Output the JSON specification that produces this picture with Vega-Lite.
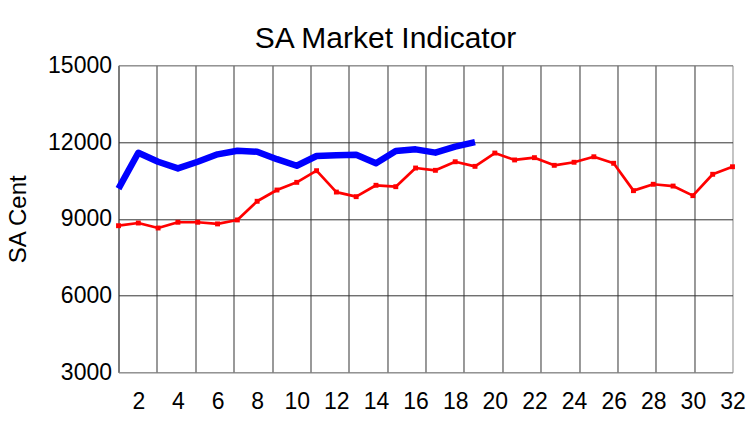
{
  "$schema": "https://vega.github.io/schema/vega-lite/v6.json",
  "width": 614,
  "height": 307,
  "autosize": {"type": "none"},
  "padding": {"left": 118.5, "top": 65.3, "right": 13, "bottom": 55},
  "background": "white",
  "config": {
    "font": "Liberation Sans",
    "view": {"stroke": "#8a8a8a", "strokeWidth": 1}
  },
  "title": {
    "text": "SA Market Indicator",
    "fontSize": 30,
    "fontWeight": "normal",
    "font": "Liberation Sans",
    "color": "black",
    "offset": 0,
    "dx": -40
  },
  "datasets": {
    "blue": [
      {"x": 1, "v": 10180}, {"x": 2, "v": 11580}, {"x": 3, "v": 11230}, {"x": 4, "v": 10970},
      {"x": 5, "v": 11230}, {"x": 6, "v": 11520}, {"x": 7, "v": 11660}, {"x": 8, "v": 11620},
      {"x": 9, "v": 11330}, {"x": 10, "v": 11075}, {"x": 11, "v": 11455}, {"x": 12, "v": 11480},
      {"x": 13, "v": 11505}, {"x": 14, "v": 11170}, {"x": 15, "v": 11650}, {"x": 16, "v": 11715},
      {"x": 17, "v": 11585}, {"x": 18, "v": 11820}, {"x": 19, "v": 12000}
    ],
    "red": [
      {"x": 1, "v": 8730}, {"x": 2, "v": 8835}, {"x": 3, "v": 8640}, {"x": 4, "v": 8865},
      {"x": 5, "v": 8865}, {"x": 6, "v": 8800}, {"x": 7, "v": 8955}, {"x": 8, "v": 9685},
      {"x": 9, "v": 10125}, {"x": 10, "v": 10425}, {"x": 11, "v": 10880}, {"x": 12, "v": 10045},
      {"x": 13, "v": 9865}, {"x": 14, "v": 10310}, {"x": 15, "v": 10255}, {"x": 16, "v": 10985},
      {"x": 17, "v": 10895}, {"x": 18, "v": 11230}, {"x": 19, "v": 11050}, {"x": 20, "v": 11570},
      {"x": 21, "v": 11300}, {"x": 22, "v": 11390}, {"x": 23, "v": 11090}, {"x": 24, "v": 11210},
      {"x": 25, "v": 11425}, {"x": 26, "v": 11170}, {"x": 27, "v": 10100}, {"x": 28, "v": 10350},
      {"x": 29, "v": 10280}, {"x": 30, "v": 9905}, {"x": 31, "v": 10740}, {"x": 32, "v": 11035}
    ]
  },
  "resolve": {"axis": {"x": "independent"}},
  "layer": [
    {
      "data": {"name": "red"},
      "mark": {"type": "line", "color": "#ff0000", "strokeWidth": 2.7, "strokeJoin": "round", "clip": false},
      "encoding": {
        "x": {
          "field": "x", "type": "quantitative",
          "scale": {"domain": [1, 32], "nice": false, "zero": false},
          "axis": {
            "orient": "bottom",
            "values": [1.0, 2.9375, 4.875, 6.8125, 8.75, 10.6875, 12.625, 14.5625, 16.5, 18.4375, 20.375, 22.3125, 24.25, 26.1875, 28.125, 30.0625],
            "grid": true, "gridColor": "#333333", "gridWidth": 1, "gridOpacity": 1,
            "labels": false, "ticks": false, "domain": false, "title": null
          }
        },
        "y": {
          "field": "v", "type": "quantitative",
          "scale": {"domain": [3000, 15000], "nice": false, "zero": false},
          "axis": {
            "values": [3000, 6000, 9000, 12000, 15000],
            "format": "d",
            "grid": true,
            "gridColor": {"condition": {"test": "datum.value == 3000 || datum.value == 15000", "value": "#8a8a8a"}, "value": "#333333"},
            "gridWidth": 1, "gridOpacity": 1,
            "ticks": false, "domain": false,
            "labelFontSize": 23, "labelColor": "black", "labelPadding": 7,
            "labelFlush": false, "labelOverlap": false,
            "title": "SA Cent", "titleFontSize": 24, "titleFontWeight": "normal",
            "titleColor": "black", "titlePadding": 17
          }
        }
      }
    },
    {
      "data": {"name": "red"},
      "mark": {"type": "point", "shape": "square", "filled": true, "color": "#ff0000", "size": 24, "opacity": 1},
      "encoding": {
        "x": {"field": "x", "type": "quantitative", "axis": null},
        "y": {"field": "v", "type": "quantitative"}
      }
    },
    {
      "data": {"name": "blue"},
      "mark": {"type": "line", "color": "#0000ff", "strokeWidth": 6.5, "strokeJoin": "round"},
      "encoding": {
        "x": {
          "field": "x", "type": "quantitative",
          "axis": {
            "orient": "bottom",
            "values": [2, 4, 6, 8, 10, 12, 14, 16, 18, 20, 22, 24, 26, 28, 30, 32],
            "grid": false, "ticks": false, "domain": false,
            "labelFontSize": 23, "labelColor": "black", "labelPadding": 18,
            "labelFlush": false, "labelOverlap": false, "title": null
          }
        },
        "y": {"field": "v", "type": "quantitative"}
      }
    }
  ]
}
